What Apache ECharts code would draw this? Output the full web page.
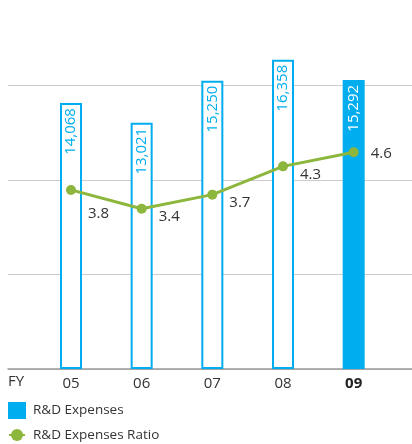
<!DOCTYPE html>
<html>
<head>
<meta charset="utf-8">
<script src="https://cdn.jsdelivr.net/npm/echarts@6/dist/echarts.min.js"></script>
<style>
  html, body { margin: 0; padding: 0; background: #fff; }
  #chart { width: 412px; height: 444px; }
</style>
</head>
<body>
<div id="chart"></div>
<script>
// 数据
var years = ['05', '06', '07', '08', '09'];
var rdExpenses = [14068, 13021, 15250, 16358, 15292];
var rdRatio = [3.8, 3.4, 3.7, 4.3, 4.6];

var blue = '#00aeef';
var green = '#8cb63c';
var font = 'Open Sans';

var chart = echarts.init(document.getElementById('chart'));

// 柱子：最后一年实心，其余空心
var barData = rdExpenses.map(function (v, i) {
  var last = i === rdExpenses.length - 1;
  return {
    value: v,
    itemStyle: { color: last ? blue : '#fff' },
    label: { color: last ? '#fff' : blue }
  };
});

// 折线标签：第一个点标签偏下
var lineData = rdRatio.map(function (v, i) {
  return { value: v, label: { offset: [0, i === 0 ? 24 : (i === 4 ? 2 : 8)] } };
});

var option = {
  animation: false,
  textStyle: { fontFamily: font },
  graphic: [{
    type: 'text', left: 8, top: 374,
    style: { text: 'FY', font: '15px "Open Sans"', fill: '#333' }
  }],
  legend: {
    orient: 'vertical',
    left: 8,
    top: 402,
    itemWidth: 16,
    itemHeight: 15,
    itemGap: 9,
    padding: 0,
    textStyle: { fontSize: 13.5, color: '#333', fontFamily: font, padding: [0, 0, 0, 3] },
    data: [
      { name: 'R&D Expenses', icon: 'rect' },
      { name: 'R&D Expenses Ratio' }
    ]
  },
  grid: [
    { left: 8, right: 0, top: 0, bottom: 75 },     // 网格线
    { left: 35.66, right: 23, top: 0, bottom: 75 } // 柱子和折线
  ],
  xAxis: [
    {
      type: 'category', gridIndex: 0, data: [''],
      axisLine: { show: true, lineStyle: { color: '#999', width: 1.5 } },
      axisTick: { show: false }, axisLabel: { show: false }
    },
    {
      type: 'category', gridIndex: 1, data: years,
      axisLine: { show: false }, axisTick: { show: false },
      axisLabel: {
        margin: 7,
        fontSize: 15,
        color: '#333',
        fontFamily: font,
        formatter: function (v, i) { return i === years.length - 1 ? '{b|' + v + '}' : v; },
        rich: { b: { fontWeight: 'bold', fontSize: 15, color: '#222', fontFamily: font } }
      }
    }
  ],
  yAxis: [
    {
      type: 'value', gridIndex: 0, min: 0, max: 19520, interval: 5000,
      axisLine: { show: false }, axisTick: { show: false }, axisLabel: { show: false },
      splitLine: { show: true, showMaxLine: false, lineStyle: { color: '#cccccc', width: 1 } }
    },
    {
      type: 'value', gridIndex: 1, min: 0, max: 19520, show: false,
      splitLine: { show: false }
    },
    {
      type: 'value', gridIndex: 1, min: 0, max: 7.83, show: false,
      splitLine: { show: false }
    }
  ],
  series: [
    {
      name: 'R&D Expenses',
      type: 'bar',
      xAxisIndex: 1,
      yAxisIndex: 1,
      barWidth: 22,
      data: barData,
      itemStyle: { color: blue, borderColor: blue, borderWidth: 2 },
      label: {
        show: true,
        position: 'insideTop',
        distance: 5,
        rotate: 90,
        align: 'right',
        verticalAlign: 'middle',
        fontSize: 15,
        fontFamily: font,
        formatter: function (p) { return p.value.toLocaleString('en-US'); }
      }
    },
    {
      name: 'R&D Expenses Ratio',
      type: 'line',
      xAxisIndex: 1,
      yAxisIndex: 2,
      data: lineData,
      symbol: 'circle',
      symbolSize: 10,
      itemStyle: { color: green },
      lineStyle: { color: green, width: 3 },
      label: {
        show: true,
        position: 'right',
        distance: 12,
        fontSize: 15,
        color: '#333',
        fontFamily: font,
        formatter: function (p) { return p.value.toFixed(1); }
      },
      z: 5
    }
  ]
};

chart.setOption(option);
</script>
</body>
</html>
